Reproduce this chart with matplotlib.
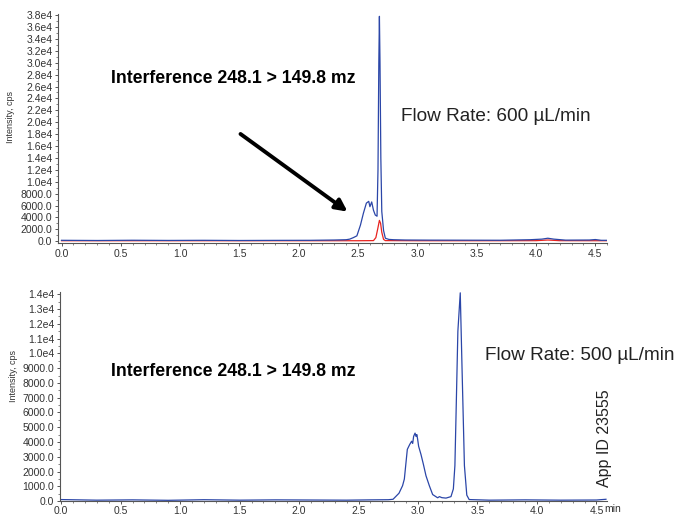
import matplotlib
matplotlib.use("Agg")
import matplotlib.pyplot as plt
from matplotlib.ticker import FixedLocator, MultipleLocator

plt.rcParams['font.family'] = ['Liberation Sans', 'DejaVu Sans']

# top panel, 600 uL/min - blue trace (time min, intensity cps)
t600_blue = [0.0, 0.3, 0.6, 0.9, 1.2, 1.5, 1.8, 2.1, 2.3, 2.40, 2.43, 2.46, 2.49, 2.52,
             2.545, 2.57, 2.59, 2.60, 2.615, 2.63, 2.645, 2.66, 2.668, 2.675, 2.68,
             2.685, 2.692, 2.70, 2.715, 2.73, 2.76, 2.80, 2.9, 3.1, 3.4, 3.7, 3.95,
             4.05, 4.1, 4.15, 4.25, 4.45, 4.5, 4.55, 4.6]
i600_blue = [150, 120, 160, 130, 150, 120, 140, 150, 200, 250, 350, 600, 900, 2700,
             4700, 6400, 6700, 5800, 6600, 5200, 4400, 4200, 12000, 30000, 37800,
             30000, 14000, 5000, 1800, 500, 300, 250, 200, 180, 170, 160, 250,
             350, 500, 350, 180, 200, 280, 150, 150]

# top panel - red trace
t600_red = [0.0, 1.0, 2.0, 2.5, 2.63, 2.65, 2.665, 2.68, 2.69, 2.70, 2.715, 2.73, 3.0,
            3.5, 4.0, 4.1, 4.2, 4.6]
i600_red = [80, 80, 80, 80, 100, 600, 2000, 3500, 3000, 1500, 300, 100, 80,
            80, 90, 200, 90, 80]

# bottom panel, 500 uL/min - blue trace
t500_blue = [0.0, 0.3, 0.6, 0.9, 1.2, 1.5, 1.8, 2.1, 2.4, 2.6, 2.75, 2.79, 2.84, 2.87,
             2.885, 2.90, 2.91, 2.93, 2.946, 2.955, 2.963, 2.975, 2.983, 2.99, 2.997,
             3.005, 3.025, 3.045, 3.067, 3.095, 3.123, 3.165, 3.18, 3.20, 3.235, 3.277,
             3.297, 3.31, 3.32, 3.335, 3.355, 3.37, 3.39, 3.41, 3.43, 3.6, 3.9, 4.2,
             4.5, 4.58]
i500_blue = [100, 60, 80, 50, 90, 60, 80, 70, 60, 80, 90, 120, 530, 1040,
             1490, 2700, 3500, 3830, 4050, 3900, 4380, 4600, 4380, 4500, 4170,
             3710, 3150, 2490, 1710, 1040, 440, 220, 300, 230, 200, 300,
             820, 2400, 6000, 11500, 14100, 9000, 2400, 400, 100, 60, 80, 60,
             70, 120]

fig = plt.figure(figsize=(6.78, 5.17), dpi=100)
ax1 = fig.add_axes([0.0855, 0.530, 0.81, 0.443])
ax2 = fig.add_axes([0.0885, 0.030, 0.807, 0.405])

blue = '#2b46a8'
red = '#e8231f'

ax1.plot(t600_red, i600_red, color=red, lw=0.9)
ax1.plot(t600_blue, i600_blue, color=blue, lw=0.9)
ax2.plot(t500_blue, i500_blue, color=blue, lw=0.9)

ax1.set_xlim(-0.03, 4.6)
ax1.set_ylim(-300, 38200)
ax2.set_xlim(-0.01, 4.59)
ax2.set_ylim(-30, 14150)

top_ticks = list(range(0, 38001, 2000))
top_labels = ['%.1f' % v if v < 10000 else '%.1fe4' % (v / 10000) for v in top_ticks]
ax1.yaxis.set_major_locator(FixedLocator(top_ticks))
ax1.set_yticklabels(top_labels)
ax1.yaxis.set_minor_locator(MultipleLocator(1000))

bot_ticks = list(range(0, 14001, 1000))
bot_labels = ['%.1f' % v if v < 10000 else '%.1fe4' % (v / 10000) for v in bot_ticks]
ax2.yaxis.set_major_locator(FixedLocator(bot_ticks))
ax2.set_yticklabels(bot_labels)
ax2.yaxis.set_minor_locator(MultipleLocator(500))

for ax in (ax1, ax2):
    ax.spines['top'].set_visible(False)
    ax.spines['right'].set_visible(False)
    ax.spines['left'].set_color('#555555')
    ax.spines['bottom'].set_color('#555555')
    ax.xaxis.set_major_locator(MultipleLocator(0.5))
    ax.xaxis.set_minor_locator(MultipleLocator(0.1))
    ax.xaxis.set_major_formatter(plt.FormatStrFormatter('%.1f'))
    ax.tick_params(which='major', length=2.5, width=0.7, colors='#555555',
                   labelsize=7.5, labelcolor='#333333', pad=1.5)
    ax.tick_params(which='minor', length=1.5, width=0.5, colors='#555555')
    ax.set_ylabel('Intensity, cps', fontsize=6.5, color='#333333')

ax1.yaxis.set_label_coords(-0.078, 0.55)
ax2.yaxis.set_label_coords(-0.077, 0.6)
ax2.tick_params(axis='x', which='major', pad=0.5)

ax1.text(0.42, 27400, 'Interference 248.1 > 149.8 mz', fontsize=12.7,
         fontweight='bold', va='center')
ax1.text(2.86, 21000, 'Flow Rate: 600 µL/min', fontsize=13.7, color='#222222',
         va='center')
ax1.annotate('', xy=(2.43, 4700), xytext=(1.49, 18300),
             arrowprops=dict(arrowstyle='-|>,head_length=0.7,head_width=0.35',
                             color='black', lw=2.8))

ax2.text(0.42, 8800, 'Interference 248.1 > 149.8 mz', fontsize=12.7,
         fontweight='bold', va='center')
ax2.text(3.56, 9870, 'Flow Rate: 500 µL/min', fontsize=13.7, color='#222222',
         va='center')
ax2.text(4.57, 930, 'App ID 23555', fontsize=11.5, rotation=90, color='#222222',
         ha='center', va='bottom')
ax2.text(4.565, -200, 'min', fontsize=7.5, color='#333333', ha='left', va='top')

fig.savefig('out.png', dpi=100)
